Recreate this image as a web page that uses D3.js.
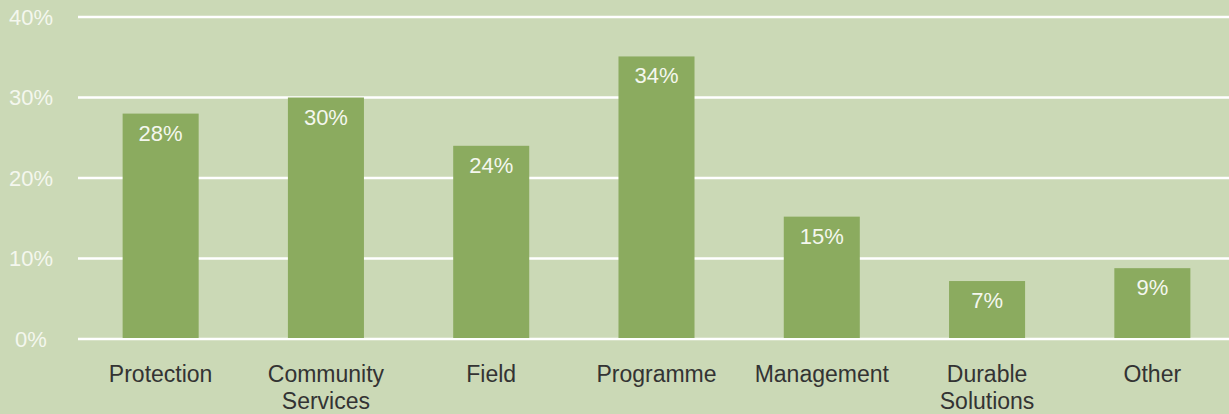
<!DOCTYPE html>
<html>
<head>
<meta charset="utf-8">
<script src="https://cdn.jsdelivr.net/npm/d3@7"></script>
<style>
  html, body { margin: 0; padding: 0; background: #cbd9b6; }
  svg { display: block; font-family: "Helvetica Neue", "Liberation Sans", Arial, sans-serif; }
</style>
</head>
<body>
<svg id="chart" width="1229" height="414"></svg>
<script>
// categories, shown as one or two lines
let categories = [
    [ 'Protection' ],
    [ 'Community', 'Services' ],
    [ 'Field' ],
    [ 'Programme' ],
    [ 'Management' ],
    [ 'Durable', 'Solutions' ],
    [ 'Other' ]
]
let values = [ 28, 30, 24, 35.1, 15.2, 7.2, 8.8 ]
let valueLabels = [ '28%', '30%', '24%', '34%', '15%', '7%', '9%' ]
let yTicks = [ 0, 10, 20, 30, 40 ]

let svg = d3.select( 'svg#chart' )
let W = 1229, H = 414

let x = d3.scaleBand()
    .domain( d3.range( categories.length ) )
    .range( [ 78, 1235 ] )
    .paddingInner( 0.54 )
    .paddingOuter( 0.27 )

let y = d3.scaleLinear()
    .domain( [ 0, 40 ] )
    .range( [ 339, 17 ] )

// grid lines
svg.append( 'g' )
    .selectAll( 'line' )
    .data( yTicks )
    .enter()
    .append( 'line' )
    .attr( 'x1', 78 )
    .attr( 'x2', W )
    .attr( 'y1', d => y( d ) )
    .attr( 'y2', d => y( d ) )
    .attr( 'stroke', '#ffffff' )
    .attr( 'stroke-width', 2.5 )

// y tick labels
svg.append( 'g' )
    .selectAll( 'text' )
    .data( yTicks )
    .enter()
    .append( 'text' )
    .attr( 'x', 31 )
    .attr( 'y', d => y( d ) )
    .attr( 'dy', '0.36em' )
    .attr( 'text-anchor', 'middle' )
    .attr( 'fill', '#f4f7ee' )
    .style( 'font-size', '22px' )
    .style( 'font-weight', 300 )
    .text( d => d + '%' )

// bars
svg.append( 'g' )
    .selectAll( 'rect' )
    .data( values )
    .enter()
    .append( 'rect' )
    .attr( 'x', ( d, i ) => x( i ) )
    .attr( 'width', x.bandwidth() )
    .attr( 'y', d => y( d ) )
    .attr( 'height', d => y( 0 ) - y( d ) - 1 )
    .attr( 'fill', '#8bab5f' )

// value labels inside bars
svg.append( 'g' )
    .selectAll( 'text' )
    .data( values )
    .enter()
    .append( 'text' )
    .attr( 'x', ( d, i ) => x( i ) + x.bandwidth() / 2 )
    .attr( 'y', d => y( d ) + 27 )
    .attr( 'text-anchor', 'middle' )
    .attr( 'fill', '#f4f7ee' )
    .style( 'font-size', '22px' )
    .style( 'font-weight', 300 )
    .text( ( d, i ) => valueLabels[ i ] )

// category labels
let cat = svg.append( 'g' )
    .selectAll( 'text' )
    .data( categories )
    .enter()
    .append( 'text' )
    .attr( 'x', ( d, i ) => x( i ) + x.bandwidth() / 2 )
    .attr( 'y', 382 )
    .attr( 'text-anchor', 'middle' )
    .attr( 'fill', '#333333' )
    .style( 'font-size', '23px' )

cat.selectAll( 'tspan' )
    .data( d => d )
    .enter()
    .append( 'tspan' )
    .attr( 'x', function() { return d3.select( this.parentNode ).attr( 'x' ) } )
    .attr( 'dy', ( d, i ) => i == 0 ? 0 : 27 )
    .text( d => d )
</script>
</body>
</html>
